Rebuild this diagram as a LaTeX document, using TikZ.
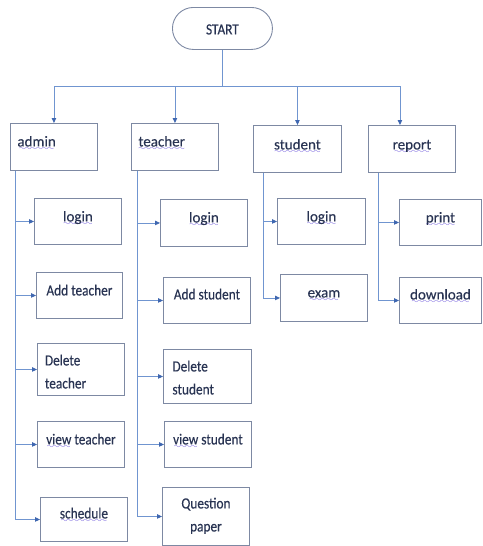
\documentclass[tikz,border=0pt]{standalone}
\usepackage{fontspec}
\setmainfont{Carlito}[FakeBold=0.3]
\newfontfamily\narrowfont{Carlito}[FakeStretch=0.86,FakeBold=0.3]
\usepackage{xcolor}
\usepackage{tikz}
\usetikzlibrary{arrows.meta}

\definecolor{ink}{HTML}{283352}
\definecolor{edge}{HTML}{7D89A3}
\definecolor{wire}{HTML}{7095D0}
\definecolor{tip}{HTML}{3F67B0}
\definecolor{wave}{HTML}{5B44D6}

% wavy underline (spell check mark)
\font\wavefont=lasy8
\newbox\wavebox
\newcommand{\wv}[1]{\setbox\wavebox=\hbox{#1}%
  \rlap{\lower3.6pt\hbox to\wd\wavebox{\color{wave}\cleaders\hbox{\wavefont\char58}\hfill}}%
  \box\wavebox}

\begin{document}
\begin{tikzpicture}[x=1pt,y=-1pt,
  box/.style={draw=edge, line width=0.9pt, text=ink, inner xsep=7pt, inner ysep=0pt,
    minimum width=87pt, text height=23pt, text depth=23pt, anchor=north west,
    font=\fontsize{15}{18}\selectfont},
  lbox/.style={box, text width=73pt, align=left},
  small/.style={font=\narrowfont\fontsize{15.5}{23}\selectfont},
  link/.style={draw=wire, line width=0.9pt},
  conn/.style={-{Triangle[length=5pt,width=4.5pt,color=tip]}}]
\useasboundingbox (0,0) rectangle (482,546);

% Start
\node[box, small, rounded corners=21pt, minimum width=100pt, text height=27pt, text depth=15pt]
  (start) at (172,7) {START};

% Modules
\node[lbox, text depth=24pt] (admin) at (10,123) {\wv{admin}};
\node[lbox, text depth=24pt] (teacher) at (131,123) {\wv{teacher}};
\node[box, minimum width=88pt, text height=24pt] (student) at (253,125) {\wv{student}};
\node[box, text height=24pt] (report) at (368,125) {\wv{report}};

% Admin tasks
\node[box] (alogin) at (34,198) {\wv{login}};
\node[box, small, minimum width=86pt] (aadd) at (36,272) {Add teacher};
\node[lbox, small, text width=72pt, text height=22pt, text depth=30pt] (adel) at (37,343) {Delete\\teacher};
\node[box, small] (aview) at (37,421) {\wv{view} teacher};
\node[box, small, text height=21pt] (asched) at (40,497) {\wv{schedule}};

% Teacher tasks
\node[box, text depth=24pt] (tlogin) at (160,199) {\wv{login}};
\node[box, small, text height=22pt, text depth=24pt] (tadd) at (163,277) {Add student};
\node[lbox, small, inner xsep=9pt, text width=70pt, text height=22pt, text depth=32pt] (tdel) at (163,349) {Delete\\student};
\node[box, small] (tview) at (164,421) {\wv{view} student};
\node[lbox, small, align=center, text height=21pt, text depth=37pt] (tqp) at (162,487) {Question\\paper};

% Student tasks
\node[box, minimum width=88pt] (slogin) at (277,198) {\wv{login}};
\node[box, text depth=24pt] (sexam) at (280,274) {\wv{exam}};

% Report tasks
\node[box, minimum width=82pt] (rprint) at (399,199) {\wv{print}};
\node[box, minimum width=82pt, text height=22pt, text depth=24pt] (rdown) at (399,277) {\wv{download}};

% Start to modules
\draw[link] (start.south) -- ++(0,37) coordinate (fork);
\foreach \m in {admin,teacher,student}
  \draw[link,conn] (fork) -| (\m.north);
\draw[link,conn] (fork) -| ([xshift=-12pt]report.north);

% Modules to tasks
\foreach \n in {alogin,aadd,adel,aview,asched}
  \draw[link,conn] ([xshift=5pt]admin.south west) |- (\n.west);
\foreach \n in {tlogin,tadd,tdel,tview,tqp}
  \draw[link,conn] ([xshift=6pt]teacher.south west) |- (\n.west);
\foreach \n in {slogin,sexam}
  \draw[link,conn] ([xshift=10pt]student.south west) |- (\n.west);
\foreach \n in {rprint,rdown}
  \draw[link,conn] ([xshift=10pt]report.south west) |- (\n.west);
\end{tikzpicture}
\end{document}
